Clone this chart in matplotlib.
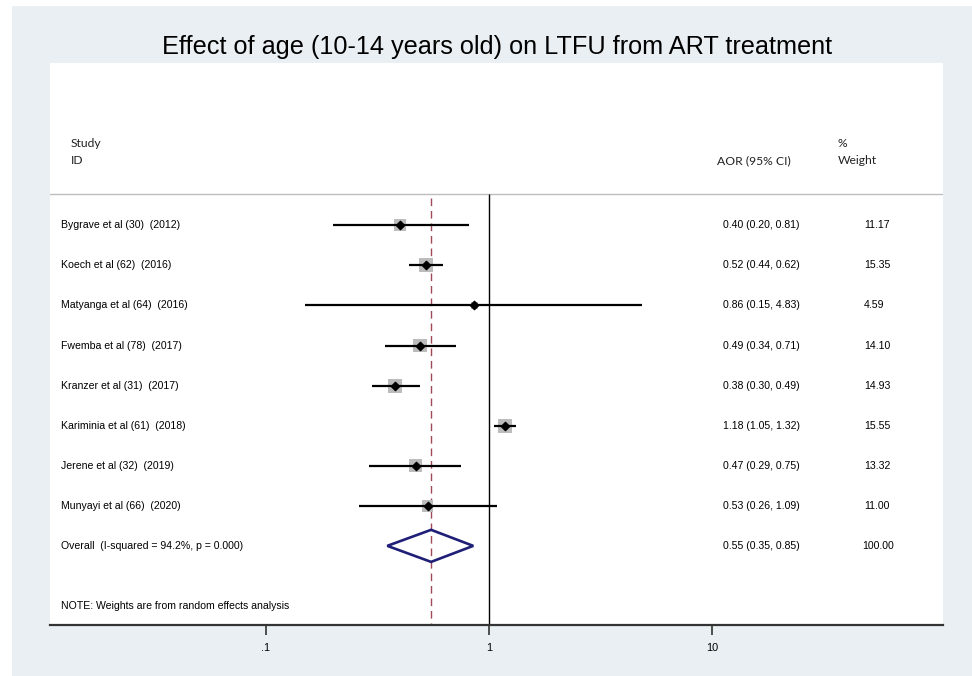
import numpy as np
import matplotlib
matplotlib.use("Agg")
import matplotlib.pyplot as plt
from matplotlib.patches import Rectangle

plt.rcParams.update({"font.family": ["Liberation Sans", "DejaVu Sans"]})

# data
studies = ["Bygrave et al (30)  (2012)", "Koech et al (62)  (2016)", "Matyanga et al (64)  (2016)",
           "Fwemba et al (78)  (2017)", "Kranzer et al (31)  (2017)", "Kariminia et al (61)  (2018)",
           "Jerene et al (32)  (2019)", "Munyayi et al (66)  (2020)"]
aor = [0.40, 0.52, 0.86, 0.49, 0.38, 1.18, 0.47, 0.53]
lo = [0.20, 0.44, 0.15, 0.34, 0.30, 1.05, 0.29, 0.26]
hi = [0.81, 0.62, 4.83, 0.71, 0.49, 1.32, 0.75, 1.09]
weight = [11.17, 15.35, 4.59, 14.10, 14.93, 15.55, 13.32, 11.00]
overall_label = "Overall  (I-squared = 94.2%, p = 0.000)"
overall = 0.55
overall_lo, overall_hi = 0.35, 0.85
overall_weight = 100.00
xticks = [0.1, 1, 10]
xtick_labels = [".1", "1", "10"]

BG = "#e9eff2"
fig = plt.figure(figsize=(9.72, 6.76), dpi=100)
fig.patches.append(Rectangle((12 / 972, 0), 1, 1 - 6 / 676, transform=fig.transFigure,
                             facecolor=BG, edgecolor="none", zorder=-10))
ax = fig.add_axes([50 / 972, 51 / 676, 893 / 972, 562 / 676])
ax.set_facecolor("white")
ax.set_xscale("log")
ax.set_xlim(10 ** -1.9686, 10 ** 2.036)
ax.set_ylim(9.975, -4.05)
for s in ["top", "left", "right"]:
    ax.spines[s].set_visible(False)
ax.spines["bottom"].set_linewidth(1.6)
ax.spines["bottom"].set_color("#333333")
ax.set_xticks(xticks)
ax.set_xticklabels(xtick_labels, fontsize=7.8)
ax.xaxis.set_minor_locator(matplotlib.ticker.NullLocator())
ax.tick_params(axis="x", length=7, width=1.2, color="#333333", pad=6)
ax.set_yticks([])

sep = -0.775
ax.axhline(sep, color="#bdbdbd", lw=1.0)
ax.vlines(1, sep, 9.975, color="black", lw=1.0)
ax.vlines(overall, sep + 0.1, 9.975, color="#a04a58", lw=1.0, linestyles=(0, (5.5, 3.5)))

rows = np.arange(len(studies))
for i in rows:
    ax.plot([lo[i], hi[i]], [i, i], color="black", lw=1.6, solid_capstyle="butt", zorder=3)
side = 2.6 * np.sqrt(weight)  # box side in points, area ~ weight
ax.scatter(aor, rows, s=side ** 2, marker="s", color="#bcbcbc", edgecolors="none", zorder=2)
ax.scatter(aor, rows, s=18, marker="D", color="black", zorder=4)

yo = len(studies)
ax.fill([overall_lo, overall, overall_hi, overall, overall_lo],
        [yo, yo - 0.4, yo, yo + 0.4, yo], facecolor="none", edgecolor="#1f1f78", lw=1.9, zorder=4)

tr = ax.get_yaxis_transform()
fs = 7.6
for i in rows:
    ax.text(0.0123, i, studies[i], transform=tr, fontsize=fs, va="center", ha="left")
    ax.text(0.7536, i, f"{aor[i]:.2f} ({lo[i]:.2f}, {hi[i]:.2f})", transform=tr, fontsize=fs,
            va="center", ha="left")
    ax.text(0.9115, i, f"{weight[i]:.2f}", transform=tr, fontsize=fs, va="center", ha="left")
ax.text(0.0123, yo, overall_label, transform=tr, fontsize=fs, va="center", ha="left")
ax.text(0.7536, yo, f"{overall:.2f} ({overall_lo:.2f}, {overall_hi:.2f})", transform=tr,
        fontsize=fs, va="center", ha="left")
ax.text(0.9095, yo, f"{overall_weight:.2f}", transform=tr, fontsize=fs, va="center", ha="left")
ax.text(0.0123, 9.5, "NOTE: Weights are from random effects analysis", transform=tr,
        fontsize=fs, va="center", ha="left")

hf = dict(transform=tr, fontsize=8.7, va="center", ha="left", family=["Lato", "DejaVu Sans"],
          color="#222222")
ax.text(0.0235, -2.04, "Study", **hf)
ax.text(0.0235, -1.62, "ID", **hf)
ax.text(0.747, -1.62, "AOR (95% CI)", **hf)
ax.text(0.882, -2.04, "%", **hf)
ax.text(0.882, -1.62, "Weight", **hf)

fig.text(0.511, 1 - 47 / 676, "Effect of age (10-14 years old) on LTFU from ART treatment",
         ha="center", va="center", fontsize=18.2)

fig.savefig("out.png", dpi=100, facecolor="white")
